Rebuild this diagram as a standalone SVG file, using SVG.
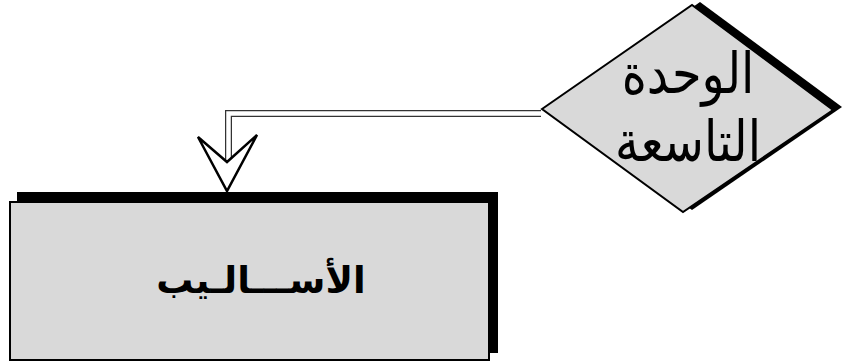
<svg xmlns="http://www.w3.org/2000/svg" width="847" height="364" viewBox="0 0 847 364">
<style>
.shadow{fill:#000;stroke:none}
.box{fill:#d9d9d9;stroke:#000;stroke-width:2}
.lbl{font-family:"DejaVu Sans","Noto Sans",sans-serif;fill:#000;text-anchor:middle}
</style>
<rect width="847" height="364" fill="#fff"/>
<g id="connectors">
<path d="M541 113.5 H228.5 V163" fill="none" stroke="#333" stroke-width="7"/>
<path d="M541 113.5 H228.5 V163" fill="none" stroke="#fff" stroke-width="4.5"/>
<polygon points="198,137 227,191 257,135 227,162" fill="#fff" stroke="#000" stroke-width="2.5" stroke-linejoin="miter"/>
</g>
<g id="node-unit">
<polygon class="shadow" points="551,107 700,2 842,107 692,210"/>
<polygon class="box" points="542,109 692,5 833,110 683,212"/>
<text class="lbl" transform="translate(688,0) scale(1.09,1.28)" font-size="44" direction="rtl"><tspan x="0" y="72.3">الوحدة</tspan><tspan x="0" y="125.5">التاسعة</tspan></text>
</g>
<g id="node-methods">
<rect class="shadow" x="17" y="192" width="481" height="161"/>
<rect class="box" x="10" y="202" width="479" height="158"/>
<text class="lbl" x="261" y="293" font-size="37" font-weight="bold" direction="rtl">الأســـالـيب</text>
</g>
</svg>
